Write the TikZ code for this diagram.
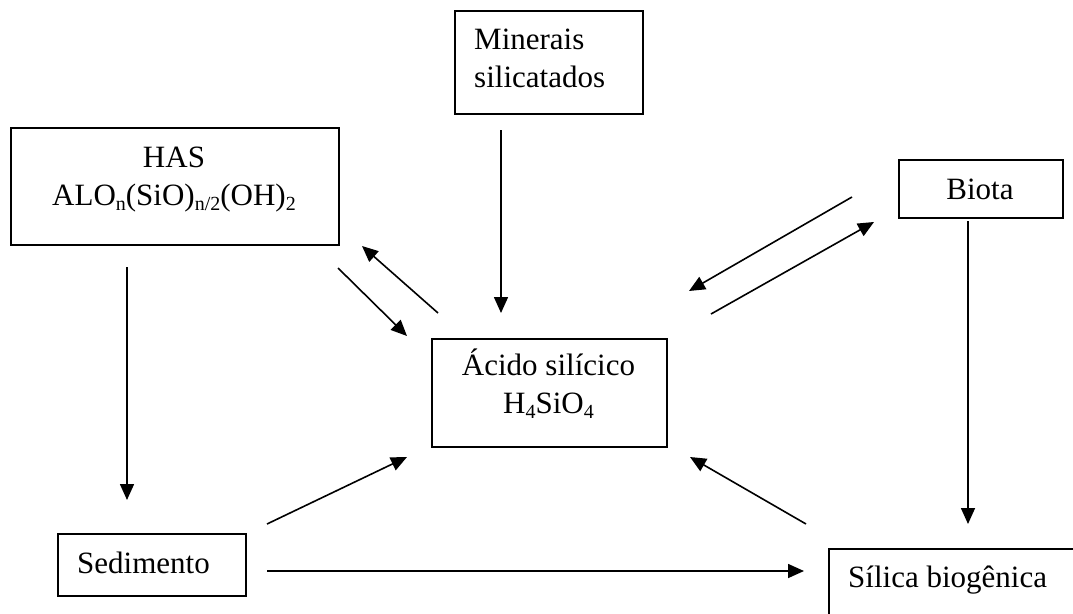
\documentclass[tikz,border=0pt]{standalone}
\usepackage{fontspec}
\setmainfont{Liberation Serif}
\usetikzlibrary{arrows.meta}
\newcommand\sbs[1]{\raisebox{-0.18em}{\fontsize{20}{20}\selectfont #1}}
\begin{document}
\begin{tikzpicture}[x=1pt,y=-1pt,
  box/.style={draw, line width=1.8pt, rectangle, anchor=north west, inner sep=0pt},
  lbl/.style={inner sep=0pt, font=\fontsize{31}{38}\selectfont},
  arr/.style={line width=1.6pt, -{Triangle[length=16pt,width=14pt]}}]
\useasboundingbox[fill=white] (0,0) rectangle (1073,613);
% boxes
\node[box, minimum width=188pt, minimum height=103pt] (min) at (454,10) {};
\node[box, minimum width=328pt, minimum height=117pt] (has) at (10,127) {};
\node[box, minimum width=164pt, minimum height=58pt] (bio) at (898,159) {};
\node[box, minimum width=235pt, minimum height=108pt] (aci) at (431,338) {};
\node[box, minimum width=188pt, minimum height=62pt] (sed) at (57,533) {};
\node[box, minimum width=260pt, minimum height=90pt] (sil) at (828,548) {};
% texts (base anchor = baseline of the last line)
\node[lbl, anchor=base west, align=left] (mintxt) at (474,87) {Minerais\\silicatados};
\node[lbl, anchor=base, align=center] (hastxt) at (174,205) {HAS\\ALO\sbs{n}(SiO)\sbs{n/2}(OH)\sbs{2}};
\node[lbl, anchor=base] (biotxt) at (980,199) {Biota};
\node[lbl, anchor=base, align=center] (acitxt) at (548.5,413) {Ácido silícico\\H\sbs{4}SiO\sbs{4}};
\node[lbl, anchor=base west] (sedtxt) at (77,573) {Sedimento};
\node[lbl, anchor=base west] (siltxt) at (848,587) {Sílica biogênica};
% connector ends
\coordinate (m1) at (501,130); \coordinate (m2) at (501,313);
\coordinate (h1) at (127,267); \coordinate (h2) at (127,500);
\coordinate (b1) at (968,221); \coordinate (b2) at (968,524);
\coordinate (ha1) at (338,268); \coordinate (ha2) at (407,336);
\coordinate (ah1) at (438,313); \coordinate (ah2) at (362,246);
\coordinate (ba1) at (852,197); \coordinate (ba2) at (689,291);
\coordinate (ab1) at (711,314); \coordinate (ab2) at (874,222);
\coordinate (sa1) at (267,524); \coordinate (sa2) at (407,457);
\coordinate (la1) at (806,524); \coordinate (la2) at (690,457);
\coordinate (ss1) at (267,571); \coordinate (ss2) at (804,571);
% connectors
\draw[arr] (m1) -- (m2);
\draw[arr] (h1) -- (h2);
\draw[arr] (b1) -- (b2);
\draw[arr] (ha1) -- (ha2);
\draw[arr] (ah1) -- (ah2);
\draw[arr] (ba1) -- (ba2);
\draw[arr] (ab1) -- (ab2);
\draw[arr] (sa1) -- (sa2);
\draw[arr] (la1) -- (la2);
\draw[arr] (ss1) -- (ss2);
\end{tikzpicture}
\end{document}
